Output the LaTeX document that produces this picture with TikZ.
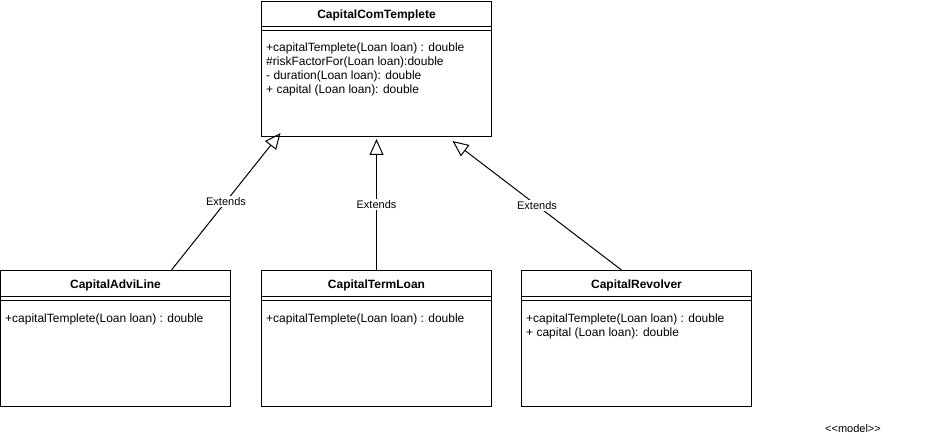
\documentclass[tikz,border=0pt]{standalone}
\usepackage{fontspec}
\setmainfont{Liberation Sans}
\usetikzlibrary{arrows.meta,positioning}

\tikzset{
  classbox/.style={draw, line width=1pt, anchor=north west, minimum width=230pt, inner sep=0pt},
  classname/.style={font=\fontsize{12}{14}\selectfont\bfseries},
  methods/.style={anchor=base west, align=left, inner sep=0pt, font=\fontsize{12}{14}\selectfont},
  extends/.style={-{Triangle[open,length=16pt,width=14pt]}, line width=1pt},
  lbl/.style={fill=white, inner sep=1pt, font=\fontsize{11}{13}\selectfont}
}

\begin{document}
\begin{tikzpicture}[x=1pt,y=1pt]
  \useasboundingbox (0,0) rectangle (951,-441);

  % classes
  \node[classbox, minimum height=135pt] (ctpl) at (261,-1) {};
  \node[classbox, minimum height=136pt] (advi) at (0,-270) {};
  \node[classbox, minimum height=136pt] (term) at (261,-270) {};
  \node[classbox, minimum height=136pt] (revl) at (521,-270) {};

  \node[classname] (ctpl-t) at ([yshift=-14pt]ctpl.north) {CapitalComTemplete};
  \node[classname] (advi-t) at ([yshift=-15pt]advi.north) {CapitalAdviLine};
  \node[classname] (term-t) at ([yshift=-15pt]term.north) {CapitalTermLoan};
  \node[classname] (revl-t) at ([yshift=-15pt]revl.north) {CapitalRevolver};

  \foreach \c in {ctpl,advi,term,revl} {
    \draw[line width=1pt] ([yshift=-26pt]\c.north west) -- ([yshift=-26pt]\c.north east);
    \draw[line width=1pt] ([yshift=-30pt]\c.north west) -- ([yshift=-30pt]\c.north east);
  }

  % base = baseline of the last line
  \node[methods] (ctpl-m) at ([xshift=5pt,yshift=-93pt]ctpl.north west)
    {+capitalTemplete(Loan loan) : double\\
     \#riskFactorFor(Loan loan):double\\
     - duration(Loan loan): double\\
     + capital (Loan loan): double};
  \node[methods] (advi-m) at ([xshift=5pt,yshift=-52pt]advi.north west)
    {+capitalTemplete(Loan loan) : double};
  \node[methods] (term-m) at ([xshift=5pt,yshift=-52pt]term.north west)
    {+capitalTemplete(Loan loan) : double};
  \node[methods] (revl-m) at ([xshift=5pt,yshift=-66pt]revl.north west)
    {+capitalTemplete(Loan loan) : double\\
     + capital (Loan loan): double};

  % generalisations
  \draw[extends] ([xshift=56pt]advi.north) -- node[lbl] {Extends} ([xshift=-96pt,yshift=4pt]ctpl.south);
  \draw[extends] (term.north) -- node[lbl] {Extends} ([yshift=-2pt]ctpl.south);
  \draw[extends] ([xshift=-15pt]revl.north) -- node[lbl] {Extends} ([xshift=76pt,yshift=-4pt]ctpl.south);

  \node[font=\fontsize{11}{13}\selectfont] (stereo) at (853,-429) {<{}<model>{}>};
\end{tikzpicture}
\end{document}
